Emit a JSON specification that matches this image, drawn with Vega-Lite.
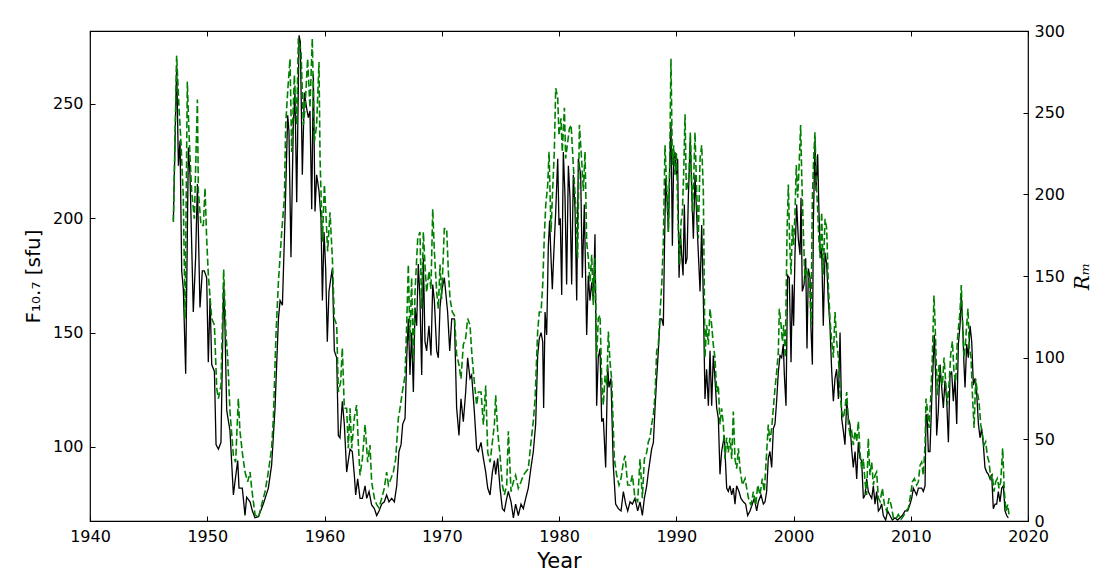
{
  "$schema": "https://vega.github.io/schema/vega-lite/v6.json",
  "width": 938,
  "height": 490,
  "autosize": {"type": "none"},
  "padding": {"left": 90, "top": 31, "right": 90, "bottom": 61},
  "background": "white",
  "layer": [
    {
      "data": {
        "values": "year,f\n1947.11,199\n1947.39,267\n1947.54,223\n1947.68,234\n1947.82,177\n1947.96,169\n1948.16,132\n1948.39,231\n1948.53,219\n1948.81,159\n1949.01,183\n1949.16,215\n1949.38,161\n1949.58,177\n1949.75,177\n1949.95,174\n1950.09,137\n1950.24,165\n1950.38,136\n1950.61,133\n1950.75,101\n1950.95,99\n1951.17,102\n1951.40,172\n1951.51,153\n1951.66,116\n1951.94,107\n1952.23,79\n1952.37,85\n1952.60,94\n1952.71,82\n1952.99,82\n1953.22,70\n1953.36,78\n1953.65,76\n1953.85,72\n1954.07,69\n1954.36,69.5\n1954.78,75\n1955.21,82\n1955.49,92\n1955.78,117\n1956.07,156\n1956.21,164\n1956.41,162\n1956.63,200\n1956.86,245\n1956.97,238\n1957.14,183\n1957.34,241\n1957.48,255\n1957.63,207\n1957.83,280\n1957.94,277\n1958.11,219\n1958.28,255\n1958.48,248\n1958.62,244\n1958.76,247\n1958.91,204\n1959.05,263\n1959.19,203\n1959.33,219\n1959.53,212\n1959.70,200\n1959.82,164\n1959.96,194\n1960.10,178\n1960.24,146\n1960.38,168\n1960.55,174\n1960.67,178\n1960.84,142\n1961.04,139\n1961.18,105\n1961.32,104\n1961.52,120\n1961.69,110\n1961.89,89\n1962.03,94\n1962.18,99\n1962.37,98\n1962.54,88\n1962.66,79\n1962.83,86\n1963.03,77.5\n1963.23,77.5\n1963.46,83\n1963.60,77.5\n1963.80,80.5\n1964.02,74.6\n1964.25,73\n1964.45,70\n1964.65,72\n1964.88,75\n1965.10,76\n1965.30,79\n1965.50,76\n1965.73,77.5\n1965.96,76\n1966.16,83\n1966.35,98\n1966.53,101\n1966.67,110\n1966.87,112.5\n1967.01,139\n1967.15,156\n1967.29,131.5\n1967.43,150\n1967.58,124\n1967.72,161\n1967.86,153\n1968.00,180\n1968.14,165\n1968.29,131.5\n1968.43,182.5\n1968.57,146\n1968.71,142\n1968.91,153\n1969.08,140\n1969.23,171\n1969.37,164\n1969.57,142\n1969.71,139\n1969.85,161\n1969.99,168\n1970.22,174\n1970.50,159\n1970.68,142\n1970.85,156\n1971.08,156\n1971.27,117\n1971.47,105\n1971.64,121\n1971.84,111\n1972.04,124\n1972.21,139\n1972.41,130\n1972.55,131.5\n1972.78,115.5\n1972.98,99\n1973.12,98\n1973.35,102\n1973.55,95\n1973.75,89\n1973.92,82\n1974.12,79\n1974.32,89\n1974.49,94\n1974.60,88\n1974.77,95\n1974.97,82\n1975.17,73\n1975.34,72\n1975.54,77.5\n1975.68,80.5\n1975.91,76\n1976.11,69\n1976.30,75\n1976.53,70\n1976.76,75\n1976.96,73\n1977.16,77.5\n1977.38,82\n1977.61,91\n1977.81,98\n1978.01,110\n1978.18,140\n1978.32,147.5\n1978.47,150\n1978.61,146\n1978.69,117\n1978.81,159\n1978.95,149\n1979.09,188\n1979.20,199\n1979.32,182.5\n1979.43,169\n1979.55,184\n1979.72,203\n1979.89,226\n1980.00,197\n1980.11,200\n1980.23,166.5\n1980.37,229\n1980.51,210\n1980.65,171\n1980.80,223\n1980.94,209\n1981.08,171\n1981.22,219\n1981.37,204\n1981.51,164\n1981.65,226\n1981.85,219\n1981.99,174\n1982.16,206\n1982.36,149\n1982.50,175\n1982.64,164\n1982.79,172\n1982.93,164\n1983.07,193\n1983.21,118\n1983.35,139\n1983.50,143\n1983.64,111\n1983.78,112.5\n1983.98,91\n1984.15,136\n1984.26,126\n1984.43,130\n1984.63,92\n1984.83,75\n1985.06,73\n1985.29,72\n1985.49,80.5\n1985.69,75\n1985.86,72\n1986.06,76\n1986.26,75\n1986.48,77.5\n1986.71,72\n1986.91,76\n1987.11,70\n1987.28,77.5\n1987.48,83\n1987.62,89\n1987.76,94\n1987.90,99\n1988.05,102\n1988.19,117\n1988.33,130\n1988.47,142\n1988.62,156\n1988.76,156\n1988.90,153\n1988.98,182.5\n1989.10,217.5\n1989.21,209\n1989.33,194\n1989.44,222\n1989.55,242\n1989.67,188\n1989.78,226\n1989.89,229\n1990.01,219\n1990.12,226\n1990.24,174\n1990.35,194\n1990.46,184\n1990.58,175\n1990.69,206\n1990.80,180\n1990.92,182.5\n1991.03,209\n1991.20,235\n1991.32,212\n1991.46,191\n1991.60,219\n1991.74,201.5\n1991.88,185\n1992.03,168\n1992.17,197\n1992.31,165\n1992.45,121\n1992.59,134\n1992.74,118\n1992.88,142\n1993.02,118\n1993.16,140\n1993.30,130\n1993.45,117\n1993.59,112.5\n1993.73,88\n1993.87,98\n1994.10,105\n1994.30,82\n1994.44,80.5\n1994.58,83\n1994.73,79\n1994.87,82\n1995.01,75\n1995.15,83\n1995.35,80.5\n1995.52,77.5\n1995.72,76\n1995.92,75\n1996.09,70\n1996.29,72\n1996.49,75\n1996.66,77.5\n1996.86,72\n1997.00,76\n1997.23,79\n1997.43,75\n1997.57,76\n1997.71,80.5\n1997.85,95\n1997.99,98\n1998.14,91\n1998.28,108\n1998.42,110\n1998.56,120\n1998.71,133\n1998.85,140\n1998.99,139\n1999.13,145\n1999.22,131.5\n1999.36,118\n1999.50,175\n1999.64,174\n1999.79,137\n1999.90,171\n2000.01,153\n2000.13,185\n2000.27,206\n2000.41,191\n2000.56,184\n2000.64,209\n2000.75,168\n2000.90,171\n2001.04,182.5\n2001.15,143\n2001.27,178\n2001.41,174\n2001.49,152\n2001.61,136\n2001.69,197\n2001.83,234\n2001.92,212\n2002.06,228\n2002.17,203\n2002.29,182.5\n2002.40,187\n2002.54,153\n2002.69,185\n2002.83,180\n2002.97,164\n2003.11,153\n2003.26,133\n2003.40,120\n2003.54,130\n2003.68,134\n2003.83,121\n2003.97,150\n2004.11,112.5\n2004.25,107\n2004.39,101\n2004.54,120\n2004.68,112.5\n2004.82,110\n2004.96,99\n2005.10,91\n2005.25,98\n2005.39,86\n2005.53,102\n2005.67,95\n2005.81,94\n2005.96,77.5\n2006.10,79\n2006.24,86\n2006.38,80.5\n2006.52,79\n2006.67,77.5\n2006.81,83\n2006.95,75\n2007.09,80.5\n2007.24,72\n2007.38,73\n2007.52,75\n2007.66,70\n2007.86,68\n2008.03,72\n2008.23,70\n2008.43,68\n2008.66,69\n2008.88,68\n2009.08,69\n2009.28,70\n2009.51,72\n2009.74,72\n2009.94,75\n2010.08,77.5\n2010.22,82\n2010.36,80.5\n2010.50,79\n2010.65,82\n2010.79,82\n2010.93,82\n2011.07,80.5\n2011.22,83\n2011.30,114\n2011.39,114\n2011.50,98\n2011.64,98\n2011.79,121\n2011.93,139\n2012.01,149\n2012.13,130\n2012.21,105\n2012.35,115.5\n2012.50,136\n2012.64,126\n2012.78,117\n2012.92,129\n2013.06,121\n2013.21,102\n2013.35,131.5\n2013.49,133\n2013.63,120\n2013.77,130\n2013.92,110\n2014.06,145\n2014.20,153\n2014.31,166.5\n2014.43,153\n2014.54,136\n2014.63,126\n2014.77,145\n2014.91,139\n2015.06,153\n2015.20,146\n2015.34,127\n2015.48,130\n2015.62,124\n2015.77,110\n2015.91,104\n2016.05,108\n2016.19,101\n2016.33,91\n2016.48,89\n2016.62,88\n2016.76,86\n2016.90,88\n2017.04,73\n2017.19,75\n2017.33,75\n2017.47,80.5\n2017.61,76\n2017.76,82\n2017.90,83\n2018.04,72\n2018.18,70\n2018.32,69",
        "format": {"type": "csv", "parse": {"year": "number", "f": "number"}}
      },
      "mark": {"type": "line", "color": "black", "strokeWidth": 1.3, "clip": true},
      "encoding": {
        "x": {
          "field": "year",
          "type": "quantitative",
          "scale": {"domain": [1940, 2020], "nice": false, "zero": false},
          "axis": {
            "orient": "bottom",
            "values": [1940, 1950, 1960, 1970, 1980, 1990, 2000, 2010, 2020],
            "format": "d",
            "title": "Year",
            "titleFontSize": 21,
            "titleFontWeight": "normal",
            "titleY": 40,
            "titleBaseline": "middle",
            "labelPadding": 12,
            "labelBaseline": "top"
          }
        },
        "y": {
          "field": "f",
          "type": "quantitative",
          "scale": {"domain": [67.6, 281.9], "nice": false, "zero": false},
          "axis": {
            "orient": "left",
            "values": [100, 150, 200, 250],
            "title": "F₁₀.₇ [sfu]",
            "titleFontSize": 20,
            "titleFontWeight": "normal",
            "titleX": -57,
            "titleY": 245,
            "titleAngle": -90,
            "titleAlign": "center",
            "titleBaseline": "middle",
            "labelPadding": 12
          }
        }
      }
    },
    {
      "data": {
        "values": "year,r\n1947.11,183\n1947.39,285\n1947.59,253\n1947.76,232\n1947.96,198\n1948.11,124\n1948.30,269\n1948.45,236\n1948.67,202\n1948.90,185\n1949.16,258\n1949.24,202\n1949.47,181\n1949.67,181\n1949.81,204\n1949.95,173\n1950.09,151\n1950.38,124\n1950.61,120\n1950.81,81\n1950.95,75\n1951.17,83\n1951.40,154\n1951.60,114\n1951.74,100\n1951.94,67\n1952.23,40\n1952.42,36\n1952.65,75\n1952.79,55\n1952.99,42\n1953.22,30\n1953.45,24\n1953.65,30\n1953.79,20\n1954.07,4\n1954.36,2\n1954.64,10\n1954.93,18\n1955.21,30\n1955.49,44.5\n1955.64,63\n1955.86,114\n1956.07,146.5\n1956.35,177\n1956.58,198\n1956.69,242.5\n1956.86,263\n1957.06,283\n1957.20,226\n1957.43,273\n1957.63,242.5\n1957.77,295.5\n1958.00,287\n1958.20,242.5\n1958.34,253\n1958.56,283\n1958.76,253\n1958.96,295.5\n1959.13,232\n1959.33,242.5\n1959.53,281\n1959.62,222\n1959.82,171\n1959.99,206\n1960.13,187\n1960.27,165\n1960.47,189\n1960.67,161\n1960.84,124\n1961.04,120\n1961.18,79\n1961.38,85\n1961.52,106\n1961.69,69\n1961.89,69\n1962.03,44.5\n1962.18,69\n1962.32,44.5\n1962.54,63\n1962.74,71\n1962.89,46.5\n1963.03,28\n1963.23,38\n1963.46,59\n1963.68,36\n1963.88,46.5\n1964.02,24\n1964.25,14\n1964.45,10\n1964.65,8\n1964.88,14\n1965.10,20\n1965.30,30\n1965.45,22\n1965.67,26\n1965.87,30\n1966.07,38\n1966.30,63\n1966.44,69\n1966.64,79\n1966.87,89\n1967.01,120\n1967.15,157\n1967.29,110\n1967.43,149\n1967.58,97.5\n1967.72,140\n1967.95,173\n1968.14,177\n1968.29,130\n1968.43,177\n1968.57,157\n1968.71,140\n1968.91,153\n1969.08,142\n1969.23,191\n1969.37,165\n1969.57,140\n1969.71,130\n1969.85,157\n1969.99,136\n1970.22,179\n1970.42,179\n1970.56,153\n1970.71,136\n1970.90,128\n1971.08,126\n1971.27,102\n1971.47,95.5\n1971.64,87\n1971.84,108\n1972.04,112\n1972.21,124\n1972.41,120\n1972.55,104\n1972.78,85\n1972.98,71\n1973.12,79\n1973.35,79\n1973.55,59\n1973.75,83\n1973.92,42\n1974.12,36\n1974.32,48.5\n1974.49,59\n1974.60,77\n1974.77,55\n1974.97,40\n1975.17,22\n1975.34,16\n1975.54,22\n1975.68,55\n1975.91,18\n1976.11,24\n1976.30,28\n1976.53,20\n1976.76,24\n1976.96,28\n1977.16,30\n1977.38,32\n1977.61,48.5\n1977.81,61\n1977.96,75\n1978.18,116\n1978.32,128\n1978.47,128\n1978.61,144.5\n1978.75,175\n1978.87,193.5\n1979.04,206\n1979.15,226\n1979.32,177\n1979.43,198\n1979.60,226\n1979.72,265\n1979.89,259\n1980.00,236\n1980.17,246.5\n1980.28,226\n1980.46,253\n1980.57,222\n1980.74,232\n1980.88,240\n1981.03,242.5\n1981.22,218\n1981.42,193.5\n1981.59,161\n1981.74,242.5\n1981.94,220\n1982.08,202\n1982.22,226\n1982.36,171\n1982.50,161\n1982.64,146.5\n1982.79,163\n1982.93,132\n1983.07,161\n1983.21,100\n1983.35,124\n1983.50,126\n1983.64,87\n1983.78,71\n1983.93,89\n1984.07,83\n1984.21,116\n1984.35,97.5\n1984.49,87\n1984.72,38\n1984.92,28\n1985.12,22\n1985.29,26\n1985.49,36\n1985.63,40\n1985.86,22\n1986.06,22\n1986.26,28\n1986.48,14\n1986.71,12\n1986.91,38\n1987.11,14\n1987.28,38\n1987.48,42\n1987.62,48.5\n1987.76,51\n1987.90,59\n1988.05,65\n1988.19,77\n1988.33,104\n1988.47,108\n1988.62,128\n1988.76,144.5\n1988.90,171\n1989.04,230\n1989.19,204\n1989.33,177\n1989.44,218\n1989.55,283\n1989.67,218\n1989.78,230\n1989.89,212\n1990.01,226\n1990.18,177\n1990.29,157\n1990.41,183\n1990.52,189\n1990.63,212\n1990.75,249\n1990.86,202\n1990.98,206\n1991.09,212\n1991.20,238\n1991.37,189\n1991.49,210\n1991.60,238\n1991.74,202\n1991.88,173\n1992.03,222\n1992.17,230\n1992.31,202\n1992.45,100\n1992.59,120\n1992.74,108\n1992.88,130\n1993.02,120\n1993.16,108\n1993.30,100\n1993.45,79\n1993.59,83\n1993.73,59\n1993.87,69\n1994.02,59\n1994.16,38\n1994.30,51\n1994.44,42\n1994.58,51\n1994.73,38\n1994.87,67\n1995.01,38\n1995.15,32\n1995.30,44.5\n1995.44,32\n1995.64,22\n1995.87,26\n1996.01,20\n1996.21,12\n1996.38,10\n1996.58,18\n1996.78,10\n1996.95,22\n1997.14,16\n1997.34,26\n1997.51,18\n1997.71,42\n1997.85,59\n1997.99,48.5\n1998.14,57\n1998.28,69\n1998.42,81\n1998.56,91\n1998.71,104\n1998.79,130\n1998.94,120\n1999.05,110\n1999.16,120\n1999.30,100\n1999.45,177\n1999.56,206\n1999.67,171\n1999.79,151\n1999.90,181\n2000.01,169\n2000.13,189\n2000.24,218\n2000.36,198\n2000.47,216\n2000.61,242.5\n2000.70,212\n2000.84,177\n2000.98,146.5\n2001.12,155\n2001.27,149\n2001.41,140\n2001.49,120\n2001.61,198\n2001.72,222\n2001.83,238\n2001.95,206\n2002.06,191\n2002.17,171\n2002.29,161\n2002.40,189\n2002.54,151\n2002.69,185\n2002.83,179\n2002.97,144.5\n2003.11,124\n2003.26,110\n2003.40,100\n2003.54,128\n2003.68,110\n2003.83,100\n2003.97,79\n2004.11,67\n2004.25,63\n2004.39,69\n2004.54,79\n2004.68,59\n2004.82,53\n2004.96,55\n2005.10,46.5\n2005.25,55\n2005.39,48.5\n2005.53,61\n2005.67,42\n2005.81,32\n2005.96,38\n2006.10,24\n2006.24,16\n2006.38,50.6\n2006.52,28\n2006.67,36\n2006.81,22\n2006.95,28\n2007.09,30\n2007.24,14\n2007.38,12\n2007.58,20\n2007.75,10\n2007.95,6\n2008.15,14\n2008.32,10\n2008.52,2\n2008.72,1\n2008.94,4\n2009.17,1\n2009.37,3\n2009.57,6\n2009.80,8\n2009.99,16\n2010.14,24\n2010.31,26\n2010.50,22\n2010.65,24\n2010.79,34\n2010.93,36\n2011.07,28\n2011.22,46.5\n2011.30,75\n2011.44,67\n2011.56,57\n2011.70,75\n2011.84,100\n2011.98,138\n2012.07,122\n2012.18,95.5\n2012.30,77\n2012.41,95.5\n2012.55,87\n2012.70,83\n2012.84,100\n2012.98,85\n2013.12,71\n2013.26,83\n2013.41,102\n2013.55,110\n2013.69,91\n2013.83,85\n2013.97,110\n2014.09,120\n2014.20,128\n2014.31,144.5\n2014.43,120\n2014.54,100\n2014.66,108\n2014.77,120\n2014.88,130\n2015.00,106\n2015.14,100\n2015.25,79\n2015.40,57\n2015.54,87\n2015.68,79\n2015.82,73\n2015.97,59\n2016.11,53\n2016.25,46.5\n2016.39,48.5\n2016.53,40\n2016.68,36\n2016.82,26\n2016.96,28\n2017.10,18\n2017.24,24\n2017.39,26\n2017.53,20\n2017.67,24\n2017.84,44.5\n2017.98,18\n2018.12,6\n2018.27,10\n2018.38,4",
        "format": {"type": "csv", "parse": {"year": "number", "r": "number"}}
      },
      "mark": {"type": "line", "color": "#008000", "strokeWidth": 1.6, "strokeDash": [7, 3], "clip": true},
      "encoding": {
        "x": {
          "field": "year",
          "type": "quantitative",
          "scale": {"domain": [1940, 2020], "nice": false, "zero": false},
          "axis": {
            "orient": "top",
            "values": [1940, 1950, 1960, 1970, 1980, 1990, 2000, 2010, 2020],
            "labels": false,
            "title": null
          }
        },
        "y": {
          "field": "r",
          "type": "quantitative",
          "scale": {"domain": [0, 300], "nice": false, "zero": false},
          "axis": {
            "orient": "right",
            "values": [0, 50, 100, 150, 200, 250, 300],
            "title": "Rₘ",
            "titleFont": "DejaVu Serif",
            "titleFontStyle": "italic",
            "titleFontSize": 20,
            "titleFontWeight": "normal",
            "titleX": 54,
            "titleY": 245,
            "titleAngle": -90,
            "titleAlign": "center",
            "titleBaseline": "middle",
            "labelPadding": 11
          }
        }
      }
    }
  ],
  "resolve": {"scale": {"y": "independent"}, "axis": {"x": "independent"}},
  "config": {
    "font": "DejaVu Sans",
    "view": {"stroke": "black", "strokeWidth": 1.2},
    "axis": {
      "domain": false,
      "grid": false,
      "ticks": true,
      "tickSize": -5,
      "tickColor": "black",
      "tickWidth": 1,
      "labelFont": "DejaVu Sans",
      "labelFontSize": 16,
      "labelColor": "black",
      "labelFlush": false,
      "labelOverlap": false,
      "titleFont": "DejaVu Sans",
      "titleColor": "black"
    }
  }
}
